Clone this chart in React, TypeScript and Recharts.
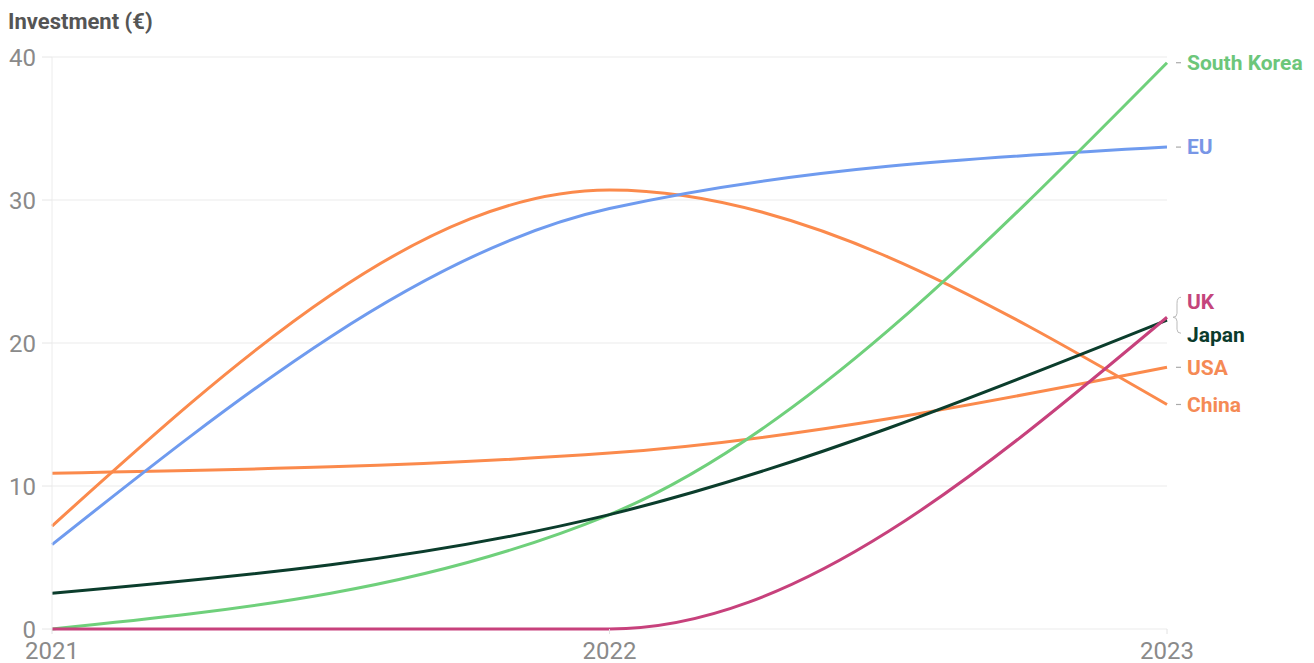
import React from 'react';
import { LineChart, Line, XAxis, YAxis, CartesianGrid } from 'recharts';

const years = ['2021', '2022', '2023'];
const southKorea = [0, 8.0, 39.6];
const eu = [5.9, 29.4, 33.7];
const china = [7.2, 30.7, 15.7];
const usa = [10.9, 12.3, 18.3];
const japan = [2.5, 8.0, 21.6];
const uk = [0, 0, 21.8];
const yTicks = [0, 10, 20, 30, 40];

const data = years.map((y, i) => ({
  year: y,
  southKorea: southKorea[i],
  eu: eu[i],
  china: china[i],
  usa: usa[i],
  japan: japan[i],
  uk: uk[i],
}));

const series = [
  { key: 'usa', name: 'USA', color: '#fb8a4c', text: '#f58a55', dy: 0, bracket: 0 },
  { key: 'china', name: 'China', color: '#fb8a4c', text: '#f58a55', dy: 0, bracket: 0 },
  { key: 'eu', name: 'EU', color: '#6f9bef', text: '#7896e6', dy: 0, bracket: 0 },
  { key: 'southKorea', name: 'South Korea', color: '#6fd07b', text: '#6cc67a', dy: 0, bracket: 0 },
  { key: 'japan', name: 'Japan', color: '#0b3d2c', text: '#0b3b2c', dy: 15, bracket: 0 },
  { key: 'uk', name: 'UK', color: '#c7417c', text: '#c4457c', dy: -16, bracket: 1 },
];

const makeLabel = (s: any) => (props: any) => {
  const { x, y, index } = props;
  if (index !== years.length - 1) return null;
  const ty = y + s.dy;
  return (
    <g key={s.key + '-lbl'}>
      {s.bracket ? (
        <path
          d={`M ${x + 14} ${y - 20} Q ${x + 10} ${y - 20} ${x + 10} ${y - 14} L ${x + 10} ${y - 4} Q ${x + 10} ${y} ${x + 6} ${y} Q ${x + 10} ${y} ${x + 10} ${y + 4} L ${x + 10} ${y + 12} Q ${x + 10} ${y + 16} ${x + 14} ${y + 16}`}
          fill="none"
          stroke="#bbb"
          strokeWidth={1}
        />
      ) : s.dy === 0 ? (
        <line x1={x + 9} x2={x + 14} y1={ty} y2={ty} stroke="#aaa" strokeWidth={1.2} />
      ) : null}
      <text
        x={x + 20}
        y={ty}
        dy="0.35em"
        fill={s.text}
        fontSize={21}
        fontWeight={700}
        fontFamily="Roboto, sans-serif"
      >
        {s.name}
      </text>
    </g>
  );
};

export default function App() {
  return (
    <div style={{ position: 'absolute', left: 0, top: 0, width: 1314, height: 663, background: '#fff' }}>
      <div
        style={{
          position: 'absolute',
          left: 8,
          top: 9,
          fontFamily: 'Roboto, sans-serif',
          fontWeight: 700,
          fontSize: 22,
          lineHeight: '26px',
          color: '#555',
        }}
      >
        Investment (€)
      </div>
      <LineChart
        width={1314}
        height={663}
        data={data}
        margin={{ top: 57, right: 147, bottom: 0, left: 0 }}
      >
        <CartesianGrid horizontal vertical={false} stroke="#ececec" strokeWidth={1.2} />
        <XAxis
          dataKey="year"
          height={34}
          axisLine={false}
          tickLine={{ stroke: '#e2e2e2' }}
          tickSize={5}
          tickMargin={8}
          tick={{ fontSize: 24, fill: '#8a8a8a', fontFamily: 'Roboto, sans-serif' }}
          interval={0}
        />
        <YAxis
          domain={[0, 40]}
          ticks={yTicks}
          width={52}
          axisLine={{ stroke: '#ececec' }}
          tickLine={{ stroke: '#e6e6e6' }}
          tickSize={10}
          tickMargin={6}
          tick={{ fontSize: 24, fill: '#8a8a8a', fontFamily: 'Roboto, sans-serif' }}
        />
        {series.map((s) => (
          <Line
            key={s.key}
            dataKey={s.key}
            type="monotone"
            stroke={s.color}
            strokeWidth={3}
            dot={false}
            activeDot={false}
            isAnimationActive={false}
            label={makeLabel(s)}
          />
        ))}
      </LineChart>
    </div>
  );
}
